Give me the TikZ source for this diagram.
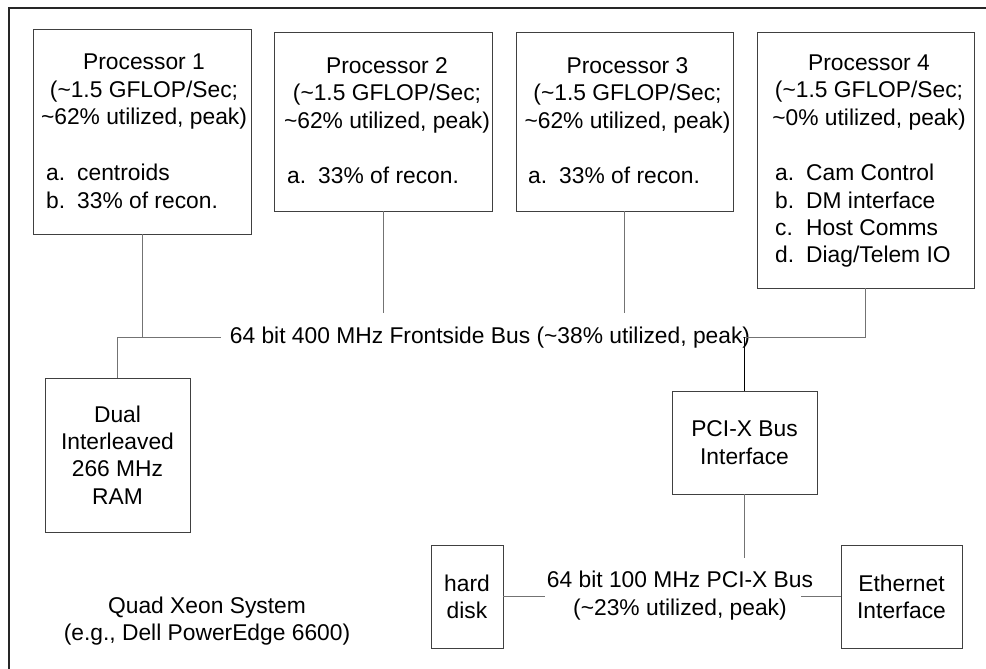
\documentclass[tikz,border=0pt]{standalone}
\usepackage{fontspec}
\setmainfont{Liberation Sans}
\newcommand{\myitem}[2]{\makebox[31pt][l]{#1}#2}
\newcommand{\tld}{\textasciitilde}
\newcommand{\fstrut}{\rule{0pt}{16.5pt}}
\begin{document}
\begin{tikzpicture}[x=1pt,y=-1pt,
  every node/.style={font=\fontsize{22.8}{27.3}\selectfont, inner sep=0pt},
  box/.style={draw=black!75, line width=0.9pt, align=center},
  conn/.style={draw=black!55, line width=0.9pt},
  txt/.style={align=center}]
\useasboundingbox (0,0) rectangle (986,669);
\draw[line width=1.3pt, black!85] (9,669) -- (9,8) -- (986,8);

% processor boxes
\node[box, minimum width=218pt, minimum height=205pt] (p1) at (142,131.5) {};
\node[box, minimum width=218pt, minimum height=179pt] (p2) at (383,121.5) {};
\node[box, minimum width=217pt, minimum height=179pt] (p3) at (624.5,121.5) {};
\node[box, minimum width=217pt, minimum height=256pt] (p4) at (865.5,160) {};

\node[txt, anchor=north] (h1) at (144,53) {\fstrut Processor 1\\(\tld1.5 GFLOP/Sec;\\\tld62\% utilized, peak)};
\node[align=left, anchor=north west] (l1) at (46,164) {\fstrut\myitem{a.}{centroids}\\\myitem{b.}{33\% of recon.}};

\node[txt, anchor=north] (h2) at (387,57) {\fstrut Processor 2\\(\tld1.5 GFLOP/Sec;\\\tld62\% utilized, peak)};
\node[align=left, anchor=north west] (l2) at (287,167) {\fstrut\myitem{a.}{33\% of recon.}};

\node[txt, anchor=north] (h3) at (627.5,57) {\fstrut Processor 3\\(\tld1.5 GFLOP/Sec;\\\tld62\% utilized, peak)};
\node[align=left, anchor=north west] (l3) at (528,167) {\fstrut\myitem{a.}{33\% of recon.}};

\node[txt, anchor=north] (h4) at (869,54) {\fstrut Processor 4\\(\tld1.5 GFLOP/Sec;\\\tld0\% utilized, peak)};
\node[align=left, anchor=north west] (l4) at (775,164) {\fstrut\myitem{a.}{Cam Control}\\\myitem{b.}{DM interface}\\\myitem{c.}{Host Comms}\\\myitem{d.}{Diag/Telem IO}};

% other boxes
\node[box, minimum width=145pt, minimum height=154pt] (ram) at (117.5,455) {Dual\\Interleaved\\266 MHz\\RAM};
\node[box, minimum width=145pt, minimum height=103pt] (pcix) at (744.5,442.5) {PCI-X Bus\\Interface};
\node[box, minimum width=72pt, minimum height=103pt] (hd) at (467,596.5) {hard\\disk};
\node[box, minimum width=121pt, minimum height=103pt] (eth) at (901.5,596.5) {Ethernet\\Interface};

% bus labels
\node[anchor=base, inner ysep=13pt] (fsb) at (490,343) {64 bit 400 MHz Frontside Bus (\tld38\% utilized, peak)};
\node[txt, inner ysep=13pt] (pcib) at (680,595.5) {64 bit 100 MHz PCI-X Bus\\(\tld23\% utilized, peak)};
\node[txt] (quad) at (207,621) {Quad Xeon System\\(e.g., Dell PowerEdge 6600)};

% connectors
\draw[conn] (p1.south) -- (p1.south |- fsb.west);
\draw[conn] (ram.north) |- ([xshift=-9pt]fsb.west);
\draw[conn] (p2.south) -- (p2.south |- fsb.north);
\draw[conn] (p3.south) -- (p3.south |- fsb.north);
\draw[conn] (p4.south) |- ([xshift=-7pt]fsb.east);
\draw[black, line width=1.6pt] (pcix.north) -- (pcix.north |- fsb.east);
\draw[conn] (pcix.south) -- (pcix.south |- pcib.north);
\draw[conn] (hd.east) -- ++(42,0);
\draw[conn] (eth.west) -- ++(-40,0);
\end{tikzpicture}
\end{document}
